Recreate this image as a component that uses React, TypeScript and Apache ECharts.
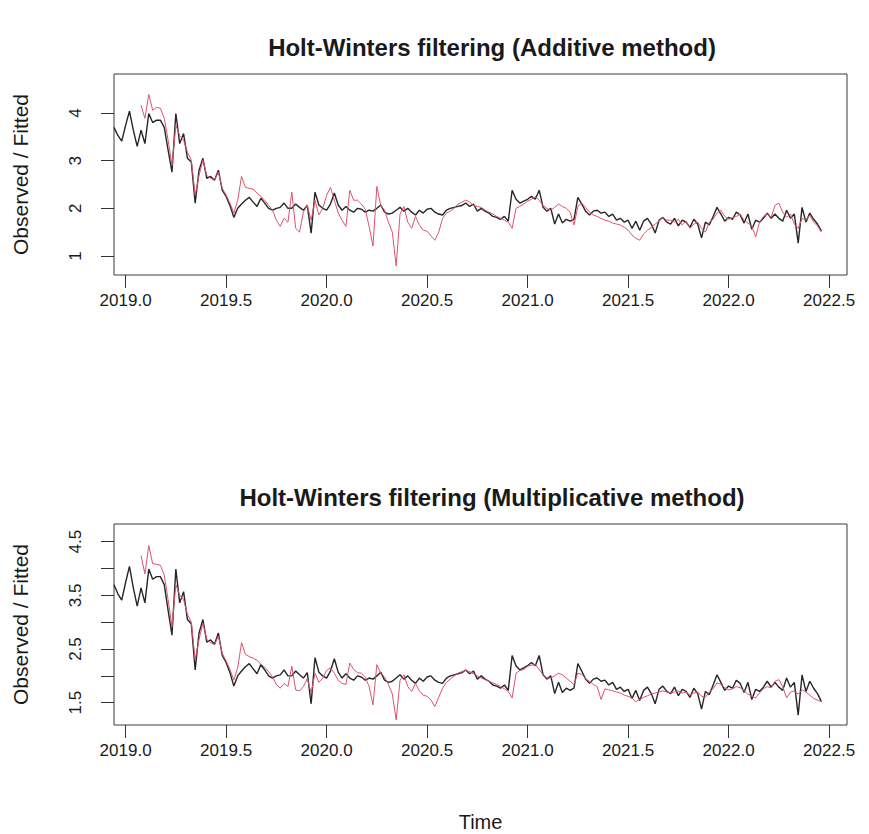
import React, { useEffect, useRef } from "react";
import * as echarts from "echarts";

// Weekly series: first observation in week 49 of 2018
const START = 2018 + 49 / 52;
const FREQ = 52;
// Holt-Winters one-step fitted values begin 7 weeks after the first observation
const FIT_OFFSET = 7;

const observed = [
  3.70, 3.53, 3.41, 3.74, 4.04, 3.64, 3.30, 3.64, 3.36, 3.99,
  3.80, 3.85, 3.85, 3.70, 3.22, 2.76, 3.99, 3.36, 3.57, 3.05,
  2.97, 2.11, 2.80, 3.05, 2.63, 2.67, 2.59, 2.80, 2.38, 2.25,
  2.06, 1.81, 2.00, 2.09, 2.17, 2.23, 2.13, 2.04, 2.21, 2.11,
  2.00, 1.96, 2.00, 2.02, 2.11, 2.00, 2.00, 2.09, 2.02, 1.96,
  2.06, 1.48, 2.34, 2.07, 2.00, 1.96, 2.09, 2.32, 2.07, 1.96,
  2.04, 1.96, 1.92, 2.00, 1.98, 1.92, 1.96, 1.94, 2.00, 2.07,
  1.92, 1.88, 1.90, 1.96, 2.02, 1.94, 2.00, 1.92, 1.86, 1.96,
  1.90, 1.98, 2.00, 1.92, 1.88, 1.86, 1.96, 2.00, 2.02, 2.04,
  2.06, 2.11, 2.04, 2.09, 1.94, 2.00, 1.94, 1.90, 1.83, 1.81,
  1.77, 1.83, 1.73, 2.38, 2.19, 2.11, 2.15, 2.19, 2.25, 2.19,
  2.38, 2.02, 1.94, 2.00, 1.67, 1.88, 1.69, 1.77, 1.73, 1.77,
  2.23, 2.09, 1.94, 1.86, 1.94, 1.96, 1.90, 1.92, 1.83, 1.88,
  1.75, 1.79, 1.71, 1.75, 1.58, 1.73, 1.54, 1.73, 1.79, 1.67,
  1.48, 1.75, 1.81, 1.71, 1.67, 1.79, 1.63, 1.75, 1.71, 1.60,
  1.77, 1.67, 1.38, 1.71, 1.65, 1.83, 2.02, 1.88, 1.73, 1.81,
  1.77, 1.92, 1.86, 1.69, 1.88, 1.56, 1.75, 1.71, 1.79, 1.90,
  1.79, 1.88, 1.79, 1.73, 1.96, 1.79, 1.88, 1.27, 2.02, 1.71,
  1.90, 1.77, 1.67, 1.52,
];

const fittedAdditive = [
  4.16, 3.89, 4.39,
  4.06, 4.12, 4.10, 3.89, 3.43, 2.90, 3.74, 3.53, 3.43, 3.18,
  3.01, 2.28, 2.69, 3.01, 2.69, 2.63, 2.59, 2.76, 2.42, 2.28,
  2.11, 1.90, 2.17, 2.67, 2.44, 2.42, 2.40, 2.32, 2.25, 2.17,
  2.06, 1.96, 1.75, 1.62, 1.79, 1.71, 2.34, 1.58, 1.50, 1.92,
  2.06, 1.75, 2.17, 1.86, 2.00, 2.27, 2.44, 2.17, 1.90, 1.75,
  1.62, 2.38, 2.17, 2.17, 2.09, 1.98, 1.62, 1.21, 2.46, 2.06,
  1.96, 1.71, 1.50, 0.79, 1.88, 2.04, 1.71, 1.58, 1.83, 1.65,
  1.54, 1.52, 1.42, 1.33, 1.50, 1.79, 1.90, 1.94, 2.00, 2.09,
  2.13, 2.17, 2.13, 2.06, 2.04, 2.02, 1.96, 1.92, 1.88, 1.83,
  1.79, 1.75, 1.71, 1.58, 2.00, 2.04, 2.09, 2.15, 2.19, 2.25,
  2.17, 2.06, 2.00, 1.96, 2.02, 2.09, 2.04, 2.00, 1.92, 1.65,
  2.04, 2.11, 2.02, 1.92, 1.86, 1.83, 1.79, 1.75, 1.73, 1.69,
  1.67, 1.65, 1.60, 1.54, 1.44, 1.37, 1.33, 1.46, 1.54, 1.60,
  1.67, 1.73, 1.81, 1.75, 1.75, 1.71, 1.77, 1.65, 1.73, 1.58,
  1.67, 1.71, 1.58, 1.50, 1.71, 1.77, 1.90, 1.96, 1.83, 1.77,
  1.81, 1.83, 1.88, 1.75, 1.69, 1.63, 1.40, 1.71, 1.83, 1.88,
  1.81, 2.06, 2.11, 1.92, 1.81, 1.88, 1.67, 1.58, 1.79, 1.75,
  1.86, 1.71, 1.63, 1.50,
];

const fittedMultiplicative = [
  4.24, 3.90, 4.43,
  4.09, 4.08, 4.06, 3.88, 3.42, 2.92, 3.70, 3.50, 3.42, 3.15,
  3.00, 2.30, 2.68, 2.98, 2.68, 2.62, 2.58, 2.74, 2.42, 2.28,
  2.12, 1.92, 2.15, 2.62, 2.40, 2.36, 2.33, 2.29, 2.22, 2.16,
  2.08, 1.98, 1.84, 1.77, 1.86, 1.80, 2.18, 1.74, 1.72, 1.80,
  1.95, 1.68, 2.05, 1.88, 1.96, 2.10, 2.15, 2.05, 1.92, 1.86,
  1.84, 2.24, 2.12, 2.06, 2.05, 1.98, 1.80, 1.46, 2.21, 2.05,
  1.98, 1.84, 1.66, 1.18, 1.92, 2.02, 1.80, 1.71, 1.86, 1.72,
  1.64, 1.62, 1.55, 1.43, 1.60, 1.77, 1.88, 1.94, 2.00, 2.05,
  2.08, 2.10, 2.08, 2.04, 2.00, 1.96, 1.93, 1.90, 1.87, 1.84,
  1.80, 1.76, 1.71, 1.59, 2.05, 2.10, 2.12, 2.18, 2.20, 2.21,
  2.12, 2.02, 1.96, 1.96, 2.00, 2.05, 2.02, 1.96, 1.90, 1.84,
  2.05, 2.03, 1.95, 1.90, 1.84, 1.80, 1.56, 1.76, 1.74, 1.72,
  1.70, 1.68, 1.64, 1.62, 1.59, 1.52, 1.56, 1.60, 1.63, 1.66,
  1.68, 1.70, 1.72, 1.70, 1.68, 1.70, 1.72, 1.68, 1.70, 1.64,
  1.68, 1.70, 1.62, 1.60, 1.70, 1.76, 1.87, 1.84, 1.78, 1.74,
  1.76, 1.80, 1.78, 1.72, 1.66, 1.62, 1.59, 1.68, 1.76, 1.80,
  1.78, 1.90, 1.93, 1.80, 1.59, 1.70, 1.72, 1.66, 1.74, 1.70,
  1.64, 1.58, 1.55, 1.52,
];

const xTicks = [2019, 2019.5, 2020, 2020.5, 2021, 2021.5, 2022, 2022.5];
const yTicksAdditive = [1, 2, 3, 4];
const yTicksMultiplicative = [1.5, 2, 2.5, 3, 3.5, 4, 4.5];
const yLabelsMultiplicative = [1.5, 2.5, 3.5, 4.5];

const titles = [
  "Holt-Winters filtering (Additive method)",
  "Holt-Winters filtering (Multiplicative method)",
];
const yAxisTitle = "Observed / Fitted";
const xAxisTitle = "Time";

const FONT = '"Liberation Sans", Arial, Helvetica, sans-serif';
const INK = "#1a1a1a";
const OBS_COLOR = "#262626";
const FIT_COLOR = "#DF536B";

const toPairs = (vals: number[], offset: number) =>
  vals.map((v, k) => [START + (offset + k) / FREQ, v]);

const PLOT_LEFT = 114;
const PLOT_WIDTH = 733;
const PLOT_HEIGHT = 201;
const PANEL_TOPS = [74, 524];

function xAxisFor(gridIndex: number) {
  return {
    type: "value",
    gridIndex,
    min: START,
    max: 2022.589,
    axisLine: { show: false },
    splitLine: { show: false },
    axisTick: {
      show: true,
      length: 13,
      customValues: xTicks,
      lineStyle: { color: "#333", width: 1 },
    },
    axisLabel: {
      customValues: xTicks,
      formatter: (v: number) => v.toFixed(1),
      margin: 17,
      fontSize: 17,
      fontFamily: FONT,
      color: INK,
    },
  };
}

function yAxisFor(gridIndex: number, min: number, max: number, ticks: number[], labels: number[], digits: number) {
  return {
    type: "value",
    gridIndex,
    min,
    max,
    axisLine: { show: false },
    splitLine: { show: false },
    axisTick: {
      show: true,
      length: 13,
      customValues: ticks,
      lineStyle: { color: "#333", width: 1 },
    },
    axisLabel: {
      customValues: labels,
      rotate: 90,
      formatter: (v: number) => v.toFixed(digits),
      margin: 30,
      fontSize: 17,
      fontFamily: FONT,
      color: INK,
    },
  };
}

export default function App() {
  const ref = useRef<HTMLDivElement>(null);

  useEffect(() => {
    if (!ref.current) return;
    const chart = echarts.init(ref.current, null, { renderer: "svg" });

    const graphics: any[] = [];
    PANEL_TOPS.forEach((top, i) => {
      graphics.push({
        type: "text",
        x: 492,
        y: top - 27,
        style: {
          text: titles[i],
          font: `bold 24px ${FONT}`,
          fill: INK,
          textAlign: "center",
          textVerticalAlign: "middle",
        },
      });
      graphics.push({
        type: "text",
        x: 20,
        y: top + PLOT_HEIGHT / 2,
        rotation: Math.PI / 2,
        style: {
          text: yAxisTitle,
          font: `21px ${FONT}`,
          fill: INK,
          textAlign: "center",
          textVerticalAlign: "middle",
        },
      });
    });
    graphics.push({
      type: "text",
      x: PLOT_LEFT + PLOT_WIDTH / 2,
      y: 822,
      style: {
        text: xAxisTitle,
        font: `20px ${FONT}`,
        fill: INK,
        textAlign: "center",
        textVerticalAlign: "middle",
      },
    });

    const lineSeries = (name: string, data: number[][], idx: number, color: string, width: number, z: number) => ({
      name,
      type: "line",
      xAxisIndex: idx,
      yAxisIndex: idx,
      data,
      showSymbol: false,
      symbol: "none",
      z,
      lineStyle: { color, width },
    });

    chart.setOption({
      animation: false,
      backgroundColor: "#ffffff",
      grid: PANEL_TOPS.map((top) => ({
        left: PLOT_LEFT,
        top,
        width: PLOT_WIDTH,
        height: PLOT_HEIGHT,
        show: true,
        borderColor: "#3a3a3a",
        borderWidth: 1,
        backgroundColor: "transparent",
        containLabel: false,
      })),
      xAxis: [xAxisFor(0), xAxisFor(1)],
      yAxis: [
        yAxisFor(0, 0.6, 4.82, yTicksAdditive, yTicksAdditive, 0),
        yAxisFor(1, 1.085, 4.83, yTicksMultiplicative, yLabelsMultiplicative, 1),
      ],
      series: [
        lineSeries("Observed", toPairs(observed, 0), 0, OBS_COLOR, 1.4, 2),
        lineSeries("Fitted (additive)", toPairs(fittedAdditive, FIT_OFFSET), 0, FIT_COLOR, 1, 3),
        lineSeries("Observed", toPairs(observed, 0), 1, OBS_COLOR, 1.4, 2),
        lineSeries("Fitted (multiplicative)", toPairs(fittedMultiplicative, FIT_OFFSET), 1, FIT_COLOR, 1, 3),
      ],
      graphic: graphics,
    });

    return () => chart.dispose();
  }, []);

  return (
    <div
      ref={ref}
      style={{ position: "fixed", left: 0, top: 0, width: 869, height: 834, background: "#fff" }}
    />
  );
}
